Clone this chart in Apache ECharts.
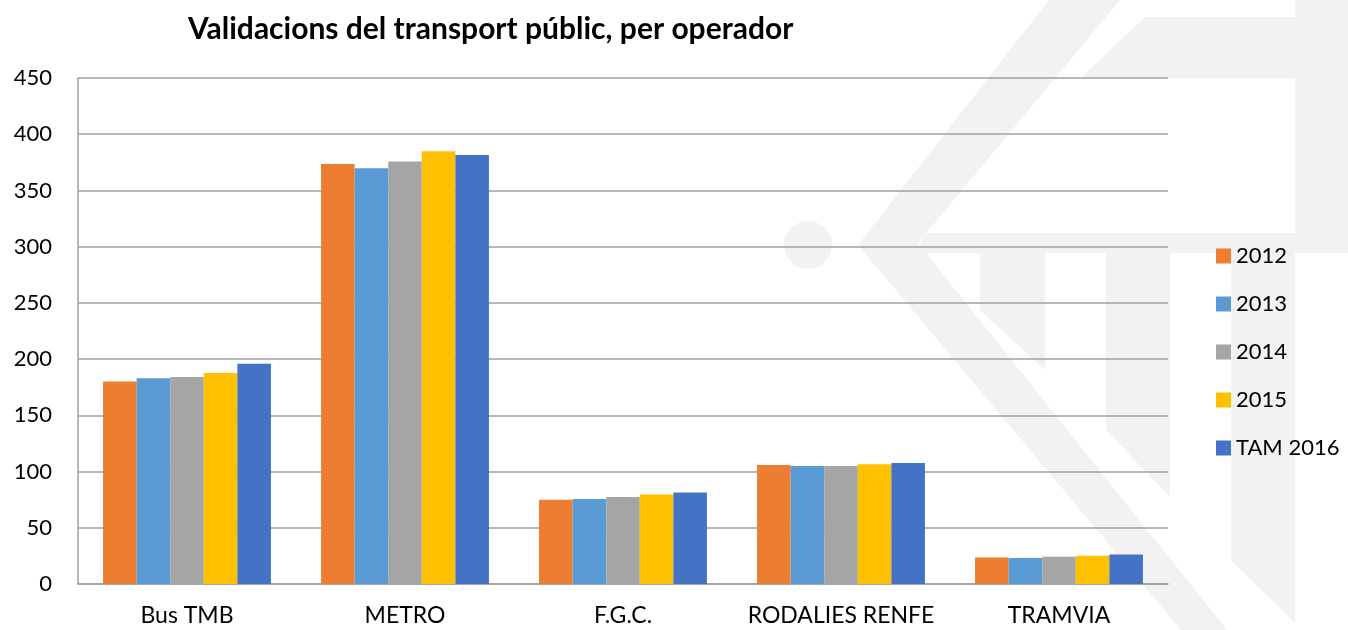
<!DOCTYPE html>
<html>
<head>
<meta charset="utf-8">
<title>Validacions del transport públic</title>
<script src="https://cdn.jsdelivr.net/npm/echarts@6/dist/echarts.min.js"></script>
<style>
  html, body { margin: 0; padding: 0; background: #fff; }
  #chart { width: 1348px; height: 630px; }
</style>
</head>
<body>
<div id="chart"></div>
<script>
// dades llegides del gràfic
var operadors = ["Bus TMB", "METRO", "F.G.C.", "RODALIES RENFE", "TRAMVIA"];
var anys = ["2012", "2013", "2014", "2015", "TAM 2016"];
var v2012 = [180, 373.5, 75, 105.8, 23.5];
var v2013 = [183, 369.8, 75.5, 105, 23.2];
var v2014 = [184.2, 375.8, 77.3, 105, 24.2];
var v2015 = [187.7, 384.8, 79.5, 106.4, 25.2];
var v2016 = [195.9, 381.5, 81.4, 107.6, 26.3];
var valors = [v2012, v2013, v2014, v2015, v2016];
var colors = ["#ED7D31", "#5B9BD5", "#A5A5A5", "#FFC000", "#4472C4"];
var yTicks = [0, 50, 100, 150, 200, 250, 300, 350, 400, 450];

var font = "Lato, 'Open Sans', sans-serif";
var wm = "#f2f2f2";

// marca d'aigua del fons
function poly(points) {
  return { type: "polygon", silent: true, z: -10, shape: { points: points }, style: { fill: wm } };
}
var watermark = [
  { type: "circle", silent: true, z: -10, shape: { cx: 808, cy: 245, r: 24 }, style: { fill: wm } },
  poly([[1049, 0], [1120, 0], [918, 243], [1227, 630], [1181, 630], [858, 245]]),
  poly([[925, 233], [1348, 233], [1348, 253], [918, 253]]),
  poly([[1145, 17], [1295, 17], [1295, 78], [1081, 78]]),
  poly([[1295, 0], [1348, 0], [1348, 253], [1295, 253]]),
  poly([[980, 253], [1045, 253], [1045, 370], [980, 310]]),
  poly([[1106, 253], [1170, 253], [1170, 497], [1106, 430]]),
  poly([[1231, 253], [1295, 253], [1295, 623], [1231, 560]])
];

var series = anys.map(function (nom, i) {
  return {
    name: nom,
    type: "bar",
    data: valors[i],
    barGap: "0%",
    barCategoryGap: "23%",
    itemStyle: { color: colors[i] }
  };
});

var chart = echarts.init(document.getElementById("chart"));
chart.setOption({
  backgroundColor: "#fff",
  animation: false,
  graphic: watermark,
  title: {
    text: "Validacions del transport públic, per operador",
    left: 183,
    top: 9,
    textStyle: { fontFamily: font, fontSize: 30, fontWeight: "bold", color: "#000" }
  },
  legend: {
    orient: "vertical",
    left: 1211,
    top: 240,
    itemWidth: 15,
    itemHeight: 15,
    itemGap: 26,
    icon: "rect",
    data: anys,
    textStyle: { fontFamily: font, fontSize: 22, color: "#000" }
  },
  grid: { left: 78, right: 180, top: 78, bottom: 46 },
  xAxis: {
    type: "category",
    data: operadors,
    axisLine: { lineStyle: { color: "#a0a0a0", width: 1.5 } },
    axisTick: { show: false },
    axisLabel: { interval: 0, fontFamily: font, fontSize: 23, color: "#000", margin: 20 }
  },
  yAxis: {
    type: "value",
    min: yTicks[0],
    max: yTicks[yTicks.length - 1],
    interval: 50,
    axisLine: { show: true, lineStyle: { color: "#a0a0a0", width: 1.5 } },
    axisTick: { show: false },
    axisLabel: { fontFamily: font, fontSize: 22, color: "#000", margin: 26 },
    splitLine: { lineStyle: { color: "#a0a0a0", width: 1.5 } }
  },
  series: series
});
</script>
</body>
</html>
